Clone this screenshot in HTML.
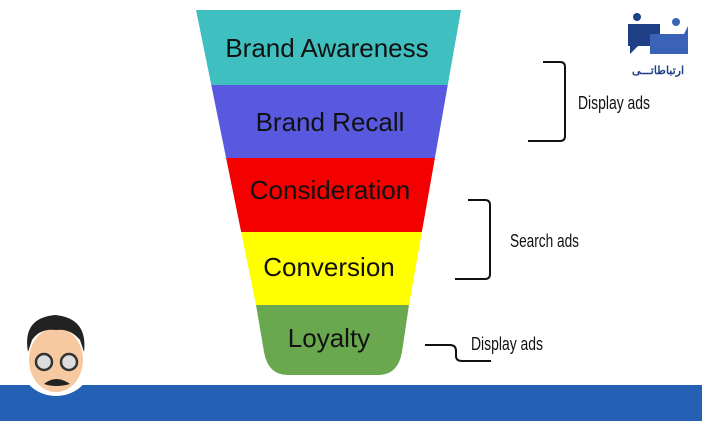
<!DOCTYPE html>
<html><head><meta charset="utf-8"><style>
body{margin:0;width:702px;height:421px;overflow:hidden;background:#fff;font-family:"Liberation Sans",sans-serif}
</style></head><body>
<svg width="702" height="421" viewBox="0 0 702 421" xmlns="http://www.w3.org/2000/svg">
<defs><clipPath id="f"><path d="M196,10 L461,10 L409,305 L402,352 Q398,375 378,375 L288,375 Q268,375 264,352 L256,305 Z"/></clipPath></defs>
<g clip-path="url(#f)">
<rect x="180" y="0" width="300" height="85" fill="#3fbfbf"/>
<rect x="180" y="85" width="300" height="73" fill="#5959e0"/>
<rect x="180" y="158" width="300" height="74" fill="#f40000"/>
<rect x="180" y="232" width="300" height="73" fill="#ffff00"/>
<rect x="180" y="305" width="300" height="80" fill="#6aa84f"/>
</g>
<g font-family="Liberation Sans, sans-serif" font-size="26" fill="#111" text-anchor="middle">
<text x="327" y="57">Brand Awareness</text>
<text x="330" y="131">Brand Recall</text>
<text x="330" y="199">Consideration</text>
<text x="329" y="276">Conversion</text>
<text x="329" y="347">Loyalty</text>
</g>
<g fill="none" stroke="#111" stroke-width="2">
<path d="M543,62 L560,62 Q565,62 565,67 L565,136 Q565,141 560,141 L528,141"/>
<path d="M468,200 L485,200 Q490,200 490,205 L490,274 Q490,279 485,279 L455,279"/>
<path d="M425,345 L450,345 Q456,345 456,351 L456,356 Q456,361 462,361 L491,361"/>
</g>
<g font-family="Liberation Sans, sans-serif" font-size="18" fill="#111">
<text x="578" y="109" textLength="72" lengthAdjust="spacingAndGlyphs">Display ads</text>
<text x="510" y="247" textLength="69" lengthAdjust="spacingAndGlyphs">Search ads</text>
<text x="471" y="350" textLength="72" lengthAdjust="spacingAndGlyphs">Display ads</text>
</g>
<rect x="0" y="385" width="702" height="36" fill="#2461b5"/>
<circle cx="56" cy="358" r="38" fill="#fff"/>
<ellipse cx="56" cy="360" rx="27" ry="32" fill="#f7c9a0"/>
<path d="M28,352 Q22,318 55,315 Q88,318 84,352 L80,340 Q70,328 56,330 Q40,328 32,340 Z" fill="#222"/>
<circle cx="44" cy="362" r="8" fill="#ddd" stroke="#333" stroke-width="2.5"/>
<circle cx="69" cy="362" r="8" fill="#ddd" stroke="#333" stroke-width="2.5"/>
<path d="M44,384 Q56,374 70,384 Q56,388 44,384Z" fill="#222"/>
<g transform="translate(628,12)">
<circle cx="9" cy="5" r="4" fill="#1f3f86"/>
<path d="M0,12 L32,12 L32,34 L10,34 L2,42 L2,34 L0,34 Z" fill="#1f3f86"/>
<circle cx="48" cy="10" r="4" fill="#3a63b8"/>
<path d="M22,22 L56,22 L60,14 L60,42 L22,42 Z" fill="#3a63b8"/>
<text x="30" y="62" font-family="Noto Sans CJK SC, sans-serif" font-size="11" font-weight="bold" fill="#1f3f86" text-anchor="middle">ارتباطاتـــی</text>
</g>
</svg>
</body></html>
